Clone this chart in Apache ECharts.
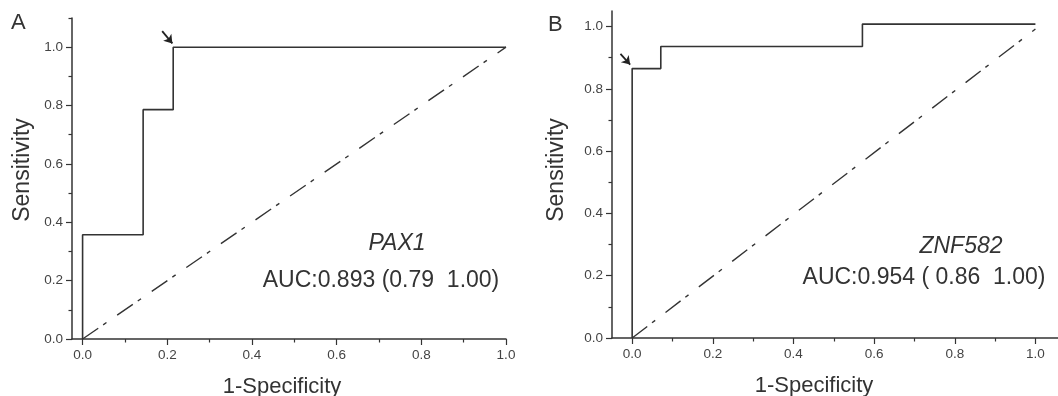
<!DOCTYPE html>
<html>
<head>
<meta charset="utf-8">
<script src="https://cdn.jsdelivr.net/npm/echarts@6/dist/echarts.min.js"></script>
<style>
  html, body { margin: 0; padding: 0; background: #fff; }
  #chart { width: 1058px; height: 396px; }
</style>
</head>
<body>
<div id="chart"></div>
<script>
// ROC vertices (1-specificity, sensitivity), drawn as a step line
const fprA = [0, 0, 0.143, 0.214, 1.0];
const tprA = [0, 0.357, 0.786, 1.0, 1.0];
const fprB = [0, 0, 0.071, 0.571, 1.0];
const tprB = [0, 0.865, 0.936, 1.008, 1.008];

// chance diagonals
const diagA = [[0, 0], [1.0, 1.0]];
const diagB = [[0, 0], [1.0, 0.992]];

// arrows marking the chosen cut-off
const arrowA = [[0.188, 1.055], [0.212, 1.013]];
const arrowB = [[-0.029, 0.912], [-0.005, 0.878]];

const majorTicks = [0, 0.2, 0.4, 0.6, 0.8, 1.0];
const minorX = [0.1, 0.3, 0.5, 0.7, 0.9];
const minorYA = [0.1, 0.3, 0.5, 0.7, 0.9, 1.1];
const minorYB = [0.1, 0.3, 0.5, 0.7, 0.9];

const panels = ["A", "B"];
const genes = ["PAX1", "ZNF582"];
const aucText = ["AUC:0.893 (0.79  1.00)", "AUC:0.954 ( 0.86  1.00)"];

const FONT = "'Liberation Sans', Arial, sans-serif";
const INK = "#333";

const toPts = (xs, ys) => xs.map((x, i) => [x, ys[i]]);

const mainX = (grid, min, max, padRight) => ({
  type: "value", gridIndex: grid, min, max, position: "bottom",
  name: "1-Specificity", nameLocation: "middle", nameGap: 37,
  nameTextStyle: { fontFamily: FONT, fontSize: 22, color: INK, padding: [0, padRight, 0, 0] },
  axisLine: { onZero: false, lineStyle: { color: INK, width: 1.5 } },
  axisTick: { customValues: majorTicks, length: 6, lineStyle: { color: INK, width: 1.2 } },
  axisLabel: { customValues: majorTicks, margin: 9, fontFamily: FONT, fontSize: 13.5, color: "#444",
    formatter: (v) => v.toFixed(1) },
  splitLine: { show: false },
});
const minorXAxis = (grid, min, max) => ({
  type: "value", gridIndex: grid, min, max, position: "bottom",
  axisLine: { show: false, onZero: false },
  axisTick: { customValues: minorX, length: 3.5, lineStyle: { color: INK, width: 1.2 } },
  axisLabel: { show: false }, splitLine: { show: false },
});
const mainY = (grid, max, padLeft, gap) => ({
  type: "value", gridIndex: grid, min: 0, max, position: "left",
  name: "Sensitivity", nameLocation: "middle", nameGap: gap,
  nameTextStyle: { fontFamily: FONT, fontSize: 23, color: INK, padding: [0, 0, 0, padLeft] },
  axisLine: { show: true, onZero: false, lineStyle: { color: INK, width: 1.5 } },
  axisTick: { show: true, customValues: majorTicks, length: 6, lineStyle: { color: INK, width: 1.2 } },
  axisLabel: { customValues: majorTicks, margin: 9, fontFamily: FONT, fontSize: 13.5, color: "#444",
    formatter: (v) => v.toFixed(1) },
  splitLine: { show: false },
});
const minorYAxis = (grid, max, vals) => ({
  type: "value", gridIndex: grid, min: 0, max, position: "left",
  axisLine: { show: false, onZero: false },
  axisTick: { show: true, customValues: vals, length: 3.5, lineStyle: { color: INK, width: 1.2 } },
  axisLabel: { show: false }, splitLine: { show: false },
});

const roc = (xi, pts) => ({
  type: "line", xAxisIndex: xi, yAxisIndex: xi, data: pts, step: "end",
  symbol: "none", clip: false, lineStyle: { color: INK, width: 1.6 }, silent: true,
});
const diag = (xi, pts) => ({
  type: "line", xAxisIndex: xi, yAxisIndex: xi, data: pts,
  symbol: "none", clip: false, lineStyle: { color: INK, width: 1.4, type: [19, 6, 4, 13] }, silent: true,
});
const arrow = (xi, a) => ({
  type: "line", xAxisIndex: xi, yAxisIndex: xi, data: [], silent: true,
  markLine: {
    silent: true, symbol: ["none", "arrow"], symbolSize: 8,
    lineStyle: { color: "#222", width: 1.8, type: "solid" }, itemStyle: { color: "#222" },
    label: { show: false },
    data: [[{ coord: a[0] }, { coord: a[1] }]],
  },
});

const chart = echarts.init(document.getElementById("chart"), null, { renderer: "canvas" });
chart.setOption({
  backgroundColor: "#fff",
  animation: false,
  grid: [
    { left: 72, top: 18, width: 434, height: 321, outerBoundsMode: "none", containLabel: false },
    { left: 612, top: 11, width: 446, height: 327, outerBoundsMode: "none", containLabel: false },
  ],
  xAxis: [mainX(0, -0.025, 1.0, 14), minorXAxis(0, -0.025, 1.0), mainX(1, -0.05, 1.056, 42), minorXAxis(1, -0.05, 1.056)],
  yAxis: [mainY(0, 1.1, 17, 38), minorYAxis(0, 1.1, minorYA), mainY(1, 1.05, 9, 44), minorYAxis(1, 1.05, minorYB)],
  series: [
    roc(0, toPts(fprA, tprA)),
    diag(0, diagA),
    arrow(0, arrowA),
    roc(2, toPts(fprB, tprB)),
    diag(2, diagB),
    arrow(2, arrowB),
  ],
  graphic: [
    { type: "text", left: 11, top: 12, style: { text: panels[0], font: `22px ${FONT}`, fill: INK } },
    { type: "text", left: 548, top: 14, style: { text: panels[1], font: `22px ${FONT}`, fill: INK } },
    { type: "text", x: 397, y: 244, style: { text: genes[0], font: `italic 23px ${FONT}`, fill: INK, align: "center", verticalAlign: "middle" } },
    { type: "text", x: 381, y: 281, style: { text: aucText[0], font: `23px ${FONT}`, fill: INK, align: "center", verticalAlign: "middle" } },
    { type: "text", x: 961, y: 247, style: { text: genes[1], font: `italic 23px ${FONT}`, fill: INK, align: "center", verticalAlign: "middle" } },
    { type: "text", x: 924, y: 278, style: { text: aucText[1], font: `23px ${FONT}`, fill: INK, align: "center", verticalAlign: "middle" } },
  ],
});
</script>
</body>
</html>
